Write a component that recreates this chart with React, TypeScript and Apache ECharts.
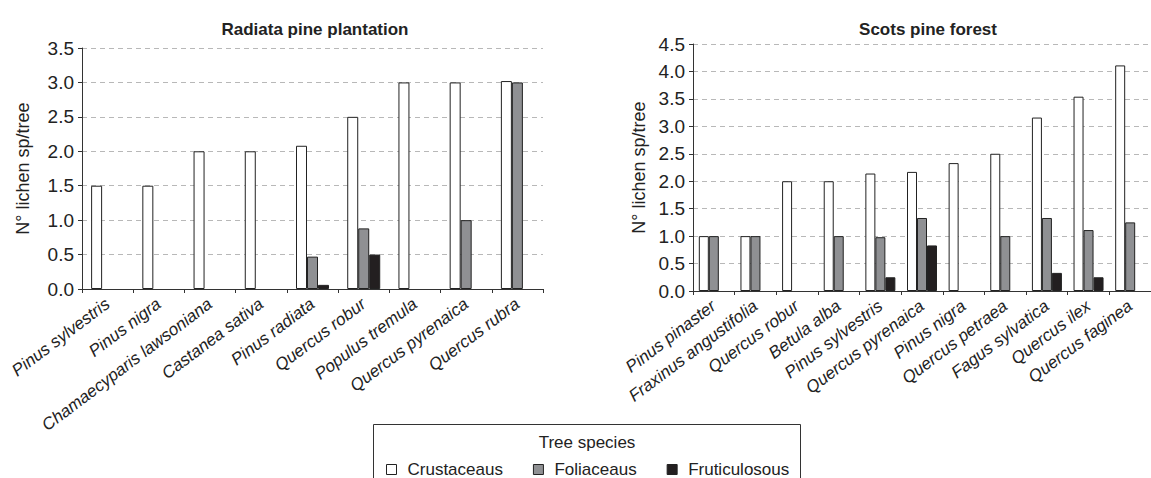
import React, { useEffect, useRef } from "react";
import * as echarts from "echarts";

const seriesNames = ["Crustaceaus", "Foliaceaus", "Fruticulosous"];
const legendTitle = "Tree species";
const yAxisName = "N° lichen sp/tree";

const radiataTitle = "Radiata pine plantation";
const radiataSpecies = [
  "Pinus sylvestris",
  "Pinus nigra",
  "Chamaecyparis lawsoniana",
  "Castanea sativa",
  "Pinus radiata",
  "Quercus robur",
  "Populus tremula",
  "Quercus pyrenaica",
  "Quercus rubra",
];
const radiataCrust = [1.5, 1.5, 2.0, 2.0, 2.08, 2.5, 3.0, 3.0, 3.02];
const radiataFoli = [null, null, null, null, 0.47, 0.88, null, 1.0, 3.0];
const radiataFrut = [null, null, null, null, 0.06, 0.5, null, null, null];

const scotsTitle = "Scots pine forest";
const scotsSpecies = [
  "Pinus pinaster",
  "Fraxinus angustifolia",
  "Quercus robur",
  "Betula alba",
  "Pinus sylvestris",
  "Quercus pyrenaica",
  "Pinus nigra",
  "Quercus petraea",
  "Fagus sylvatica",
  "Quercus ilex",
  "Quercus faginea",
];
const scotsCrust = [1.0, 1.0, 2.0, 2.0, 2.14, 2.17, 2.33, 2.5, 3.16, 3.54, 4.11];
const scotsFoli = [1.0, 1.0, null, 1.0, 0.98, 1.33, null, 1.0, 1.33, 1.11, 1.25];
const scotsFrut = [null, null, null, null, 0.25, 0.83, null, null, 0.33, 0.25, null];

const FONT = "'Liberation Sans', Arial, sans-serif";
const colors = ["#ffffff", "#8f9093", "#231f20"];

export default function App() {
  const ref = useRef<HTMLDivElement>(null);

  useEffect(() => {
    if (!ref.current) return;
    const chart = echarts.init(ref.current, undefined, { renderer: "svg" });

    const xAxisCommon = (data: string[], gridIndex: number) => ({
      type: "category",
      gridIndex,
      data,
      axisLine: { lineStyle: { color: "#333", width: 1 } },
      axisTick: { show: true, length: 4, lineStyle: { color: "#333" } },
      axisLabel: {
        interval: 0,
        rotate: 37,
        fontSize: 17,
        fontStyle: "italic",
        fontFamily: FONT,
        color: "#222",
        margin: 13,
      },
    });
    const yAxisCommon = (max: number, gridIndex: number, nameGap: number) => ({
      type: "value",
      gridIndex,
      min: 0,
      max,
      interval: 0.5,
      name: yAxisName,
      nameLocation: "middle",
      nameGap,
      nameRotate: 90,
      nameTextStyle: { fontSize: 18, fontFamily: FONT, color: "#222" },
      axisLine: { show: true, lineStyle: { color: "#333", width: 1 } },
      axisTick: { show: true, length: 4, lineStyle: { color: "#333" } },
      axisLabel: {
        fontSize: 19,
        fontFamily: FONT,
        color: "#222",
        margin: 8,
        formatter: (v: number) => v.toFixed(1),
      },
      splitLine: { show: true, lineStyle: { color: "#b8b8b8", type: [5, 4], width: 1 } },
    });

    const mkSeries = (idx: number, data: (number | null)[], gi: number, bw: number) => ({
      name: seriesNames[idx],
      type: "bar",
      xAxisIndex: gi,
      yAxisIndex: gi,
      data,
      barWidth: bw,
      barGap: "0%",
      itemStyle: { color: colors[idx], borderColor: "#222", borderWidth: 1 },
    });

    chart.setOption({
      animation: false,
      backgroundColor: "#ffffff",
      title: [
        {
          text: radiataTitle,
          left: 310,
          top: 16,
          textAlign: "center",
          textStyle: { fontSize: 17, fontWeight: "bold", fontFamily: FONT, color: "#222" },
        },
        {
          text: scotsTitle,
          left: 923,
          top: 16,
          textAlign: "center",
          textStyle: { fontSize: 17, fontWeight: "bold", fontFamily: FONT, color: "#222" },
        },
      ],
      grid: [
        { left: 82, right: 608, top: 48, bottom: 189 },
        { left: 693, right: -9, top: 44, bottom: 187 },
      ],
      xAxis: [xAxisCommon(radiataSpecies, 0), xAxisCommon(scotsSpecies, 1)],
      yAxis: [yAxisCommon(3.5, 0, 50), yAxisCommon(4.5, 1, 45)],
      legend: {
        left: 381,
        top: 456,
        itemWidth: 10,
        itemHeight: 10,
        itemGap: 30,
        icon: "rect",
        data: seriesNames,
        itemStyle: { borderColor: "#222", borderWidth: 1 },
        textStyle: { fontSize: 17, fontFamily: FONT, color: "#222", padding: [0, 0, 0, 6] },
      },
      graphic: [
        {
          type: "rect",
          shape: { x: 373.5, y: 424.5, width: 427, height: 70 },
          style: { fill: "none", stroke: "#333", lineWidth: 1 },
        },
        {
          type: "text",
          x: 587,
          y: 442,
          style: {
            text: legendTitle,
            fontSize: 17,
            fontFamily: FONT,
            fill: "#222",
            textAlign: "center",
            textVerticalAlign: "middle",
          },
        },
      ],
      series: [
        mkSeries(0, radiataCrust, 0, 11),
        mkSeries(1, radiataFoli, 0, 11),
        mkSeries(2, radiataFrut, 0, 11),
        mkSeries(0, scotsCrust, 1, 10),
        mkSeries(1, scotsFoli, 1, 10),
        mkSeries(2, scotsFrut, 1, 10),
      ],
    });

    return () => chart.dispose();
  }, []);

  return (
    <div
      ref={ref}
      style={{ position: "absolute", left: 0, top: 0, width: 1151, height: 478, overflow: "hidden" }}
    />
  );
}
